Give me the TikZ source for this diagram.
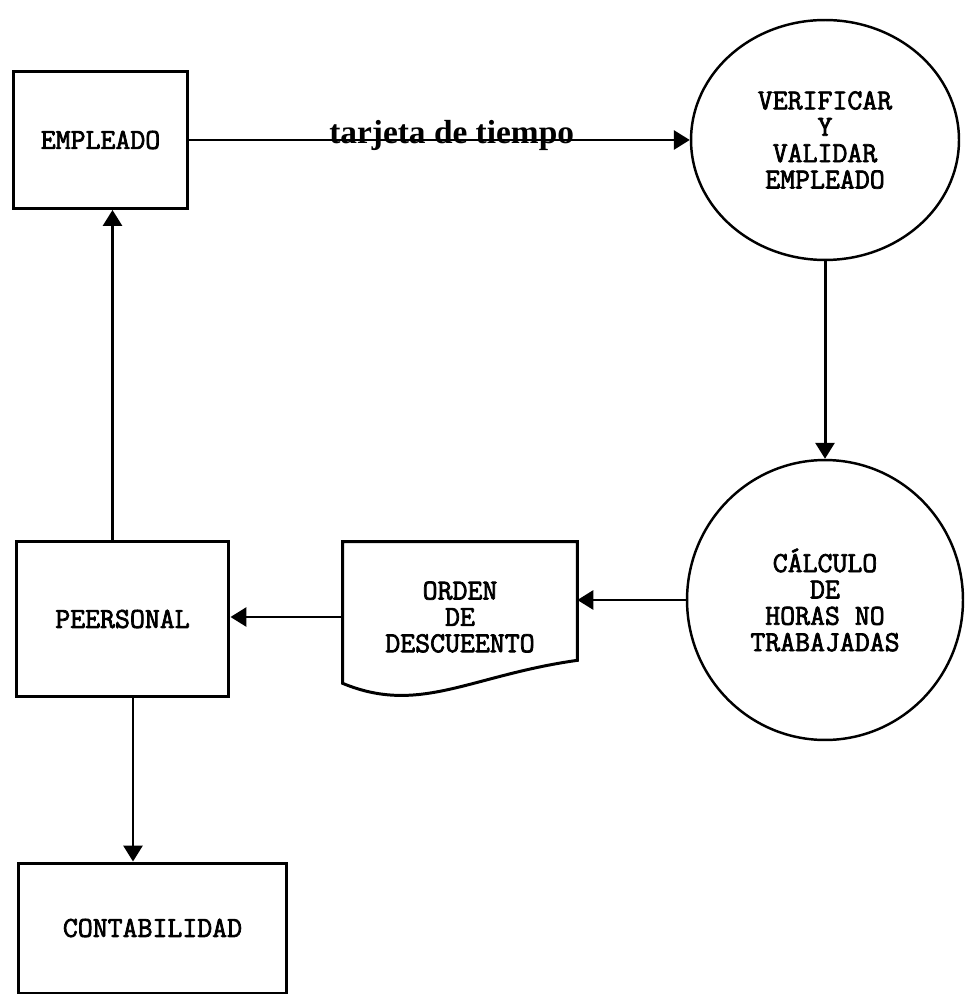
\documentclass[tikz,border=0pt]{standalone}
\usepackage{fontspec}
\setmainfont{Liberation Serif}
\newfontfamily\boxfont[FakeBold=2.5]{Latin Modern Mono}
\usepackage{tikz}
\usetikzlibrary{shapes.geometric, positioning, arrows.meta, calc}

\begin{document}
\begin{tikzpicture}[
x=0.02cm, y=-0.02cm,
    entity/.style={rectangle, draw, line width=1.7pt, align=center, inner sep=0pt,
        font=\boxfont\fontsize{16.5pt}{15pt}\selectfont},
    process/.style={ellipse, draw, line width=1.4pt, align=center, inner sep=0pt,
        font=\boxfont\fontsize{16.5pt}{15pt}\selectfont},
    document/.style={rectangle, align=center, inner sep=0pt,
        font=\boxfont\fontsize{16.5pt}{15pt}\selectfont},
    line/.style={draw, line width=1.7pt},
    flow/.style={draw, line width=1.7pt, -{Triangle[length=0.32cm, width=0.38cm]}}
]
    \useasboundingbox (0,0) rectangle (965,996);

    % Entities
    \node[entity, minimum width=3.5cm, minimum height=2.74cm] (empleado) at (100.5,140) {EMPLEADO};
    \node[entity, minimum width=4.26cm, minimum height=3.12cm] (personal) at (122.5,619) {PEERSONAL};
    \node[entity, minimum width=5.38cm, minimum height=2.6cm] (contab) at (152.5,928) {CONTABILIDAD};

    % Processes
    \node[process, minimum width=5.36cm, minimum height=4.8cm] (verificar) at (825,140) {VERIFICAR\\Y\\VALIDAR\\EMPLEADO};
    \node[process, minimum width=5.52cm, minimum height=5.6cm] (calculo) at (825,600) {CÁLCULO\\DE\\HORAS NO\\TRABAJADAS};

    % Document
    \node[document, minimum width=4.68cm, minimum height=3cm] (orden) at (460,617) {ORDEN\\DE\\DESCUEENTO};
    \draw[line] (orden.north west) -- (orden.north east) -- ($(orden.south east)+(0,-32)$)
        .. controls ($(orden.south east)+(-107,-17)$) and ($(orden.south west)+(77,23)$) .. ($(orden.south west)+(0,-9)$)
        -- cycle;

    % Flows
    \draw[flow] (empleado.east) -- (verificar.west)
        node[pos=0.524, anchor=base, yshift=-0.08cm, font=\bfseries\fontsize{19pt}{21pt}\selectfont] (tarjeta) {tarjeta de tiempo};
    \draw[flow] (verificar.south) -- (calculo.north);
    \draw[flow] (calculo.west) -- (calculo.west -| orden.east);
    \draw[flow] (orden.west) -- (orden.west -| personal.east);
    \draw[flow] ([xshift=-0.2cm]personal.north) -- ([xshift=-0.2cm]personal.north |- empleado.south);
    \draw[flow] ([xshift=0.21cm]personal.south) -- ([xshift=0.21cm]personal.south |- contab.north);

\end{tikzpicture}
\end{document}
